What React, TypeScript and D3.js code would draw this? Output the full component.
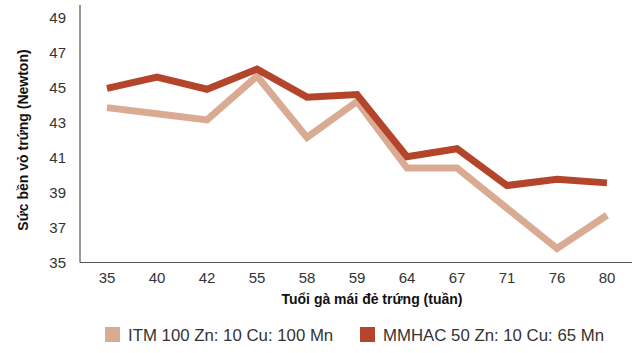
import React from "react";
import * as d3 from "d3";

const categories = ["35", "40", "42", "55", "58", "59", "64", "67", "71", "76", "80"];
const itmValues = [43.85, 43.5, 43.15, 45.65, 42.15, 44.2, 40.4, 40.4, 38.1, 35.8, 37.7];
const mmhacValues = [44.95, 45.6, 44.9, 46.05, 44.45, 44.6, 41.05, 41.5, 39.4, 39.75, 39.55];
const yTicks = [35, 37, 39, 41, 43, 45, 47, 49];
const seriesNames = ["ITM 100 Zn: 10 Cu: 100 Mn", "MMHAC 50 Zn: 10 Cu: 65 Mn"];
const seriesColors = ["#d9ab93", "#b4452a"];

const W = 640;
const H = 353;
const FONT = "'Liberation Sans', Arial, sans-serif";

export default function App() {
  const x = d3.scaleBand<string>().domain(categories).range([82, 632]);
  const y = d3.scaleLinear().domain([35, 49]).range([262.5, 17.5]);
  const line = d3
    .line<number>()
    .x((_, i) => (x(categories[i]) as number) + x.bandwidth() / 2)
    .y((d) => y(d));

  const series = [itmValues, mmhacValues];

  return (
    <svg
      width={W}
      height={H}
      style={{ position: "absolute", left: 0, top: 0, background: "#fff" }}
      fontFamily={FONT}
    >
      <rect x={0} y={0} width={W} height={H} fill="#fff" />
      <line x1={80} y1={5} x2={80} y2={262.5} stroke="#555" strokeWidth={1.2} />
      <line x1={80} y1={262.5} x2={632} y2={262.5} stroke="#555" strokeWidth={1.2} />
      {yTicks.map((t) => (
        <text key={t} x={66} y={y(t)} dy="0.36em" textAnchor="end" fontSize={15} fill="#333">
          {t}
        </text>
      ))}
      {categories.map((c) => (
        <text
          key={c}
          x={(x(c) as number) + x.bandwidth() / 2}
          y={278}
          dy="0.36em"
          textAnchor="middle"
          fontSize={15}
          fill="#333"
        >
          {c}
        </text>
      ))}
      <text x={372} y={304} textAnchor="middle" fontSize={14} fontWeight="bold" fill="#111">
        Tuổi gà mái đẻ trứng (tuần)
      </text>
      <text
        transform="translate(28,140) rotate(-90)"
        textAnchor="middle"
        fontSize={14}
        fontWeight="bold"
        fill="#111"
      >
        Sức bền vỏ trứng (Newton)
      </text>
      {series.map((s, i) => (
        <path
          key={i}
          d={line(s) || ""}
          fill="none"
          stroke={seriesColors[i]}
          strokeWidth={7}
          strokeLinejoin="miter"
        />
      ))}
      {seriesNames.map((n, i) => {
        const lx = i === 0 ? 105 : 360;
        return (
          <g key={n}>
            <rect x={lx} y={327} width={15} height={15} fill={seriesColors[i]} />
            <text x={lx + 23} y={341} fontSize={16.8} fill="#333">
              {n}
            </text>
          </g>
        );
      })}
    </svg>
  );
}
